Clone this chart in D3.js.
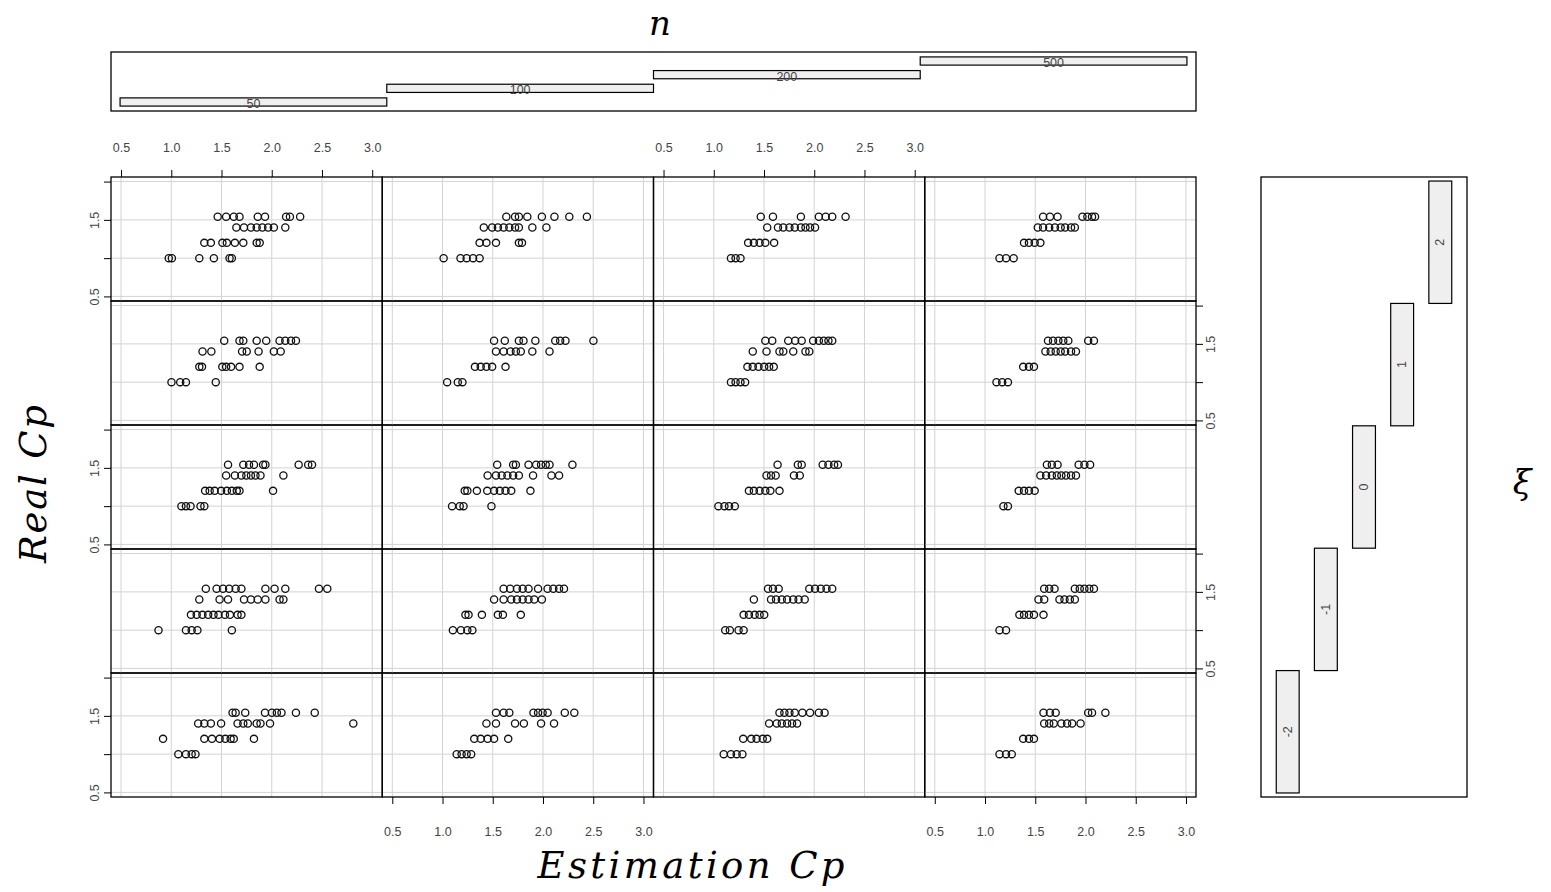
<!DOCTYPE html>
<html><head><meta charset="utf-8">
<script src="https://cdn.jsdelivr.net/npm/d3@7"></script>
<style>
body{margin:0;background:#fff;}
svg{display:block;}
.tick text{font-family:"Liberation Sans",Arial,sans-serif;font-size:12.5px;fill:#444;}
</style></head>
<body><svg id="c" width="1551" height="892"></svg>
<script>
// ---------- data ----------
const nLevels = ["50","100","200","500"];          // columns (left -> right)
const xiLevels = ["-2","-1","0","1","2"];           // rows (bottom -> top)
const realCpLevels = [1.0, 1.2, 1.4, 1.54];          // y values of each sub-array
const xTicks = [0.5,1.0,1.5,2.0,2.5,3.0];
const xTickLabels = ["0.5","1.0","1.5","2.0","2.5","3.0"];
const yTicks = [0.5,1.0,1.5,2.0];
const yTickLabels = ["0.5","","1.5",""];

// Estimation Cp per panel, one sub-array per Real Cp level (1.0, 1.2, 1.4, 1.54)
const est_xi2_n50  = [[0.975,1.006,1.279,1.424,1.580,1.603],[1.329,1.394,1.509,1.553,1.633,1.717,1.850,1.880],[1.648,1.724,1.793,1.850,1.907,1.964,2.021,2.135],[1.462,1.546,1.622,1.679,1.861,1.933,2.143,2.181,2.283]];
const est_xi2_n100 = [[1.011,1.179,1.240,1.304,1.369],[1.369,1.437,1.532,1.760,1.791],[1.411,1.494,1.551,1.608,1.665,1.722,1.760,1.894,2.034],[1.635,1.722,1.760,1.844,1.989,2.114,2.262,2.437]];
const est_xi2_n200 = [[1.171,1.217,1.266],[1.342,1.399,1.456,1.513,1.601],[1.532,1.639,1.692,1.753,1.806,1.867,1.913,1.958,2.008],[1.468,1.589,1.867,2.046,2.114,2.179,2.312]];
const est_xi2_n500 = [[1.144,1.209,1.285],[1.388,1.437,1.494,1.551],[1.525,1.578,1.639,1.696,1.753,1.798,1.856,1.894],[1.578,1.646,1.722,1.970,2.019,2.065,2.095]];

const est_xi1_n50  = [[1.002,1.089,1.146,1.443],[1.279,1.306,1.508,1.546,1.595,1.679,1.880],[1.311,1.399,1.705,1.751,1.869,2.021,2.089],[1.527,1.679,1.717,1.850,1.945,2.078,2.135,2.192,2.241]];
const est_xi1_n100 = [[1.046,1.152,1.198],[1.323,1.380,1.437,1.494,1.627],[1.532,1.608,1.677,1.730,1.779,1.894,2.065],[1.513,1.620,1.760,1.806,1.924,2.122,2.171,2.224,2.502]];
const est_xi1_n200 = [[1.171,1.217,1.266,1.312],[1.335,1.388,1.445,1.502,1.551,1.597],[1.388,1.525,1.654,1.692,1.791,1.913,1.951],[1.513,1.582,1.741,1.810,1.875,1.989,2.046,2.095,2.141,2.179]];
const est_xi1_n500 = [[1.114,1.171,1.228],[1.380,1.437,1.487],[1.601,1.654,1.703,1.753,1.798,1.856,1.905],[1.627,1.677,1.730,1.779,1.829,2.027,2.084]];

const est_xi0_n50  = [[1.101,1.146,1.192,1.291,1.329],[1.337,1.382,1.432,1.496,1.553,1.603,1.652,1.679,2.013],[1.546,1.633,1.698,1.747,1.793,1.838,1.888,2.116],[1.565,1.717,1.774,1.823,1.914,1.937,2.268,2.363,2.401]];
const est_xi0_n100 = [[1.095,1.171,1.209,1.487],[1.221,1.247,1.342,1.445,1.513,1.570,1.627,1.684,1.875],[1.449,1.532,1.589,1.646,1.703,1.760,1.901,2.084,2.160],[1.544,1.703,1.730,1.856,1.932,1.981,2.027,2.065,2.293]];
const est_xi0_n200 = [[1.046,1.106,1.152,1.209],[1.350,1.399,1.456,1.513,1.563,1.654],[1.525,1.570,1.616,1.798,1.856],[1.635,1.837,1.875,2.084,2.141,2.198,2.236]];
const est_xi0_n500 = [[1.183,1.228],[1.335,1.388,1.437,1.494],[1.551,1.608,1.665,1.715,1.760,1.806,1.856,1.905],[1.616,1.665,1.722,1.932,1.989,2.046]];

const est_xim1_n50  = [[0.873,1.146,1.203,1.260,1.603],[1.196,1.253,1.310,1.367,1.420,1.470,1.534,1.584,1.660,1.698],[1.279,1.481,1.565,1.724,1.793,1.861,1.937,2.078,2.116],[1.344,1.451,1.515,1.576,1.641,1.698,1.937,2.028,2.135,2.470,2.553]];
const est_xim1_n100 = [[1.103,1.183,1.247,1.297],[1.228,1.259,1.392,1.551,1.601,1.779],[1.513,1.608,1.684,1.741,1.798,1.856,1.913,1.989],[1.608,1.673,1.741,1.798,1.856,1.951,2.046,2.103,2.160,2.209]];
const est_xim1_n200 = [[1.114,1.160,1.247,1.297],[1.297,1.350,1.407,1.456,1.502],[1.399,1.570,1.620,1.677,1.730,1.791,1.844,1.905],[1.540,1.589,1.646,1.951,2.008,2.065,2.122,2.179]];
const est_xim1_n500 = [[1.144,1.209],[1.342,1.388,1.437,1.487,1.582],[1.532,1.589,1.741,1.791,1.844,1.894],[1.589,1.639,1.692,1.894,1.943,1.989,2.038,2.084]];

const est_xim2_n50  = [[1.070,1.146,1.203,1.241],[0.918,1.329,1.405,1.481,1.538,1.591,1.622,1.823],[1.268,1.329,1.394,1.496,1.660,1.717,1.762,1.850,1.888,1.983,2.812],[1.610,1.641,1.736,1.933,2.002,2.051,2.097,2.241,2.428]];
const est_xim2_n100 = [[1.141,1.190,1.240,1.285],[1.316,1.380,1.449,1.513,1.654],[1.437,1.532,1.722,1.810,1.981,2.110],[1.532,1.608,1.665,1.905,1.951,1.996,2.046,2.217,2.312]];
const est_xim2_n200 = [[1.099,1.171,1.228,1.285],[1.293,1.373,1.426,1.487,1.532],[1.551,1.627,1.677,1.730,1.779,1.829],[1.654,1.703,1.753,1.806,1.882,1.958,2.046,2.103]];
const est_xim2_n500 = [[1.144,1.209,1.266],[1.380,1.437,1.487],[1.589,1.639,1.684,1.760,1.817,1.867,1.951],[1.582,1.646,1.703,2.027,2.065,2.198]];

// rows listed bottom (xi=-2) to top (xi=2); columns n = 50,100,200,500
const panelRows = [
  [est_xim2_n50, est_xim2_n100, est_xim2_n200, est_xim2_n500],
  [est_xim1_n50, est_xim1_n100, est_xim1_n200, est_xim1_n500],
  [est_xi0_n50,  est_xi0_n100,  est_xi0_n200,  est_xi0_n500],
  [est_xi1_n50,  est_xi1_n100,  est_xi1_n200,  est_xi1_n500],
  [est_xi2_n50,  est_xi2_n100,  est_xi2_n200,  est_xi2_n500]
];

// ---------- layout ----------
const svg = d3.select("#c");
svg.append("rect").attr("width",1551).attr("height",892).attr("fill","#fff");

const L = 111, R = 1196, T = 177, B = 797;
const nCol = nLevels.length, nRow = xiLevels.length;
const colX = d3.scaleBand().domain(d3.range(nCol)).range([L, R]).paddingInner(0).paddingOuter(0);
const rowY = d3.scaleBand().domain(d3.range(nRow)).range([B, T]).paddingInner(0).paddingOuter(0); // row 0 bottom
const xDom = [0.4, 3.1], yDom = [0.44, 2.06];

const fontAx = '"Liberation Sans", Arial, sans-serif';

panelRows.forEach((row, ri) => {
  row.forEach((est, ci) => {
    const x0 = colX(ci), w = colX.bandwidth();
    const y0 = rowY(ri), h = rowY.bandwidth();
    const x = d3.scaleLinear().domain(xDom).range([x0, x0 + w]);
    const y = d3.scaleLinear().domain(yDom).range([y0 + h, y0]);
    const g = svg.append("g");
    // grid
    g.selectAll(".gv").data(xTicks).join("line")
      .attr("x1", d => x(d)).attr("x2", d => x(d)).attr("y1", y0).attr("y2", y0 + h)
      .attr("stroke", "#d3d3d3").attr("stroke-width", 1);
    g.selectAll(".gh").data(yTicks).join("line")
      .attr("x1", x0).attr("x2", x0 + w).attr("y1", d => y(d)).attr("y2", d => y(d))
      .attr("stroke", "#d3d3d3").attr("stroke-width", 1);
    // points
    const pts = [];
    est.forEach((arr, li) => arr.forEach(v => pts.push([v, realCpLevels[li]])));
    g.selectAll("circle").data(pts).join("circle")
      .attr("cx", d => x(d[0])).attr("cy", d => y(d[1])).attr("r", 3.6)
      .attr("fill", "none").attr("stroke", "#111").attr("stroke-width", 1.3);
    // box
    g.append("rect").attr("x", x0).attr("y", y0).attr("width", w).attr("height", h)
      .attr("fill", "none").attr("stroke", "#000").attr("stroke-width", 1.3);

    // axes
    const styleX = (sel, yText) => {
      sel.select(".domain").remove();
      sel.selectAll(".tick line").attr("stroke", "#000");
      sel.selectAll(".tick text").attr("y", yText).attr("dy", 0);
    };
    if (ri === nRow - 1 && (ci === 0 || ci === 2)) {
      const ax = d3.axisTop(x).tickValues(xTicks).tickFormat((d, i) => xTickLabels[i]).tickSize(7);
      svg.append("g").attr("transform", `translate(0,${y0})`).call(ax).call(s => styleX(s, -25));
    }
    if (ri === 0 && (ci === 1 || ci === 3)) {
      const ax = d3.axisBottom(x).tickValues(xTicks).tickFormat((d, i) => xTickLabels[i]).tickSize(7);
      svg.append("g").attr("transform", `translate(0,${y0 + h})`).call(ax).call(s => styleX(s, 39));
    }
    const styleY = (sel, yOff) => {
      sel.select(".domain").remove();
      sel.selectAll(".tick line").attr("stroke", "#000");
      sel.selectAll(".tick text").attr("transform", "rotate(-90)")
        .attr("x", 0).attr("y", yOff).attr("dy", 0).attr("text-anchor", "middle");
    };
    if (ci === 0 && ri % 2 === 0) {
      const ay = d3.axisLeft(y).tickValues(yTicks).tickFormat((d, i) => yTickLabels[i]).tickSize(7);
      svg.append("g").attr("transform", `translate(${x0},0)`).call(ay).call(s => styleY(s, -12));
    }
    if (ci === nCol - 1 && ri % 2 === 1) {
      const ay = d3.axisRight(y).tickValues(yTicks).tickFormat((d, i) => yTickLabels[i]).tickSize(7);
      svg.append("g").attr("transform", `translate(${x0 + w},0)`).call(ay).call(s => styleY(s, 19));
    }
  });
});

// ---------- top given panel (n) ----------
{
  const bx0 = L, bx1 = R, by0 = 52, by1 = 111;
  const pad = 0.034;
  const gx = d3.scaleLinear().domain([0.5 - pad, nCol + 0.5 + pad]).range([bx0, bx1]);
  const gy = d3.scaleLinear().domain([0.34, nCol + 0.66]).range([by1, by0]);
  const g = svg.append("g");
  g.append("rect").attr("x", bx0).attr("y", by0).attr("width", bx1 - bx0).attr("height", by1 - by0)
    .attr("fill", "none").attr("stroke", "#000").attr("stroke-width", 1.3);
  nLevels.forEach((lab, i) => {
    const lv = i + 1;
    g.append("rect").attr("x", gx(lv - 0.5)).attr("y", gy(lv + 0.3))
      .attr("width", gx(lv + 0.5) - gx(lv - 0.5)).attr("height", gy(lv - 0.3) - gy(lv + 0.3))
      .attr("fill", "#efefef").attr("stroke", "#000").attr("stroke-width", 1.2);
    g.append("text").attr("x", gx(lv)).attr("y", gy(lv) + 6).attr("text-anchor", "middle")
      .attr("font-family", fontAx).attr("font-size", 12.5).attr("fill", "#444").text(lab);
  });
}

// ---------- right given panel (xi) ----------
{
  const bx0 = 1261, bx1 = 1467, by0 = T, by1 = B;
  const pad = 0.033;
  const gx = d3.scaleLinear().domain([0.3, nRow + 0.7]).range([bx0, bx1]);
  const gy = d3.scaleLinear().domain([0.5 - pad, nRow + 0.5 + pad]).range([by1, by0]);
  const g = svg.append("g");
  g.append("rect").attr("x", bx0).attr("y", by0).attr("width", bx1 - bx0).attr("height", by1 - by0)
    .attr("fill", "none").attr("stroke", "#000").attr("stroke-width", 1.3);
  xiLevels.forEach((lab, i) => {
    const lv = i + 1;
    g.append("rect").attr("x", gx(lv - 0.3)).attr("y", gy(lv + 0.5))
      .attr("width", gx(lv + 0.3) - gx(lv - 0.3)).attr("height", gy(lv - 0.5) - gy(lv + 0.5))
      .attr("fill", "#efefef").attr("stroke", "#000").attr("stroke-width", 1.2);
    g.append("text").attr("transform", `translate(${gx(lv) + 4},${gy(lv)}) rotate(-90)`)
      .attr("text-anchor", "middle").attr("font-family", fontAx).attr("font-size", 12.5)
      .attr("fill", "#444").text(lab);
  });
}

// ---------- titles ----------
const titleFont = '"DejaVu Serif", serif';
svg.append("text").attr("x", 660).attr("y", 35).attr("text-anchor", "middle")
  .attr("font-family", titleFont).attr("font-style", "italic").attr("font-size", 34).text("n");
svg.append("text").attr("x", 691).attr("y", 878).attr("text-anchor", "middle")
  .attr("font-family", titleFont).attr("font-style", "italic").attr("font-size", 37)
  .attr("textLength", 307).attr("lengthAdjust", "spacing").text("Estimation Cp");
svg.append("text").attr("transform", "translate(46,484) rotate(-90)").attr("text-anchor", "middle")
  .attr("font-family", titleFont).attr("font-style", "italic").attr("font-size", 37)
  .attr("textLength", 158).attr("lengthAdjust", "spacing").text("Real Cp");
svg.append("text").attr("x", 1522).attr("y", 494).attr("text-anchor", "middle")
  .attr("font-family", titleFont).attr("font-style", "italic").attr("font-size", 34).text("ξ");
</script></body></html>
